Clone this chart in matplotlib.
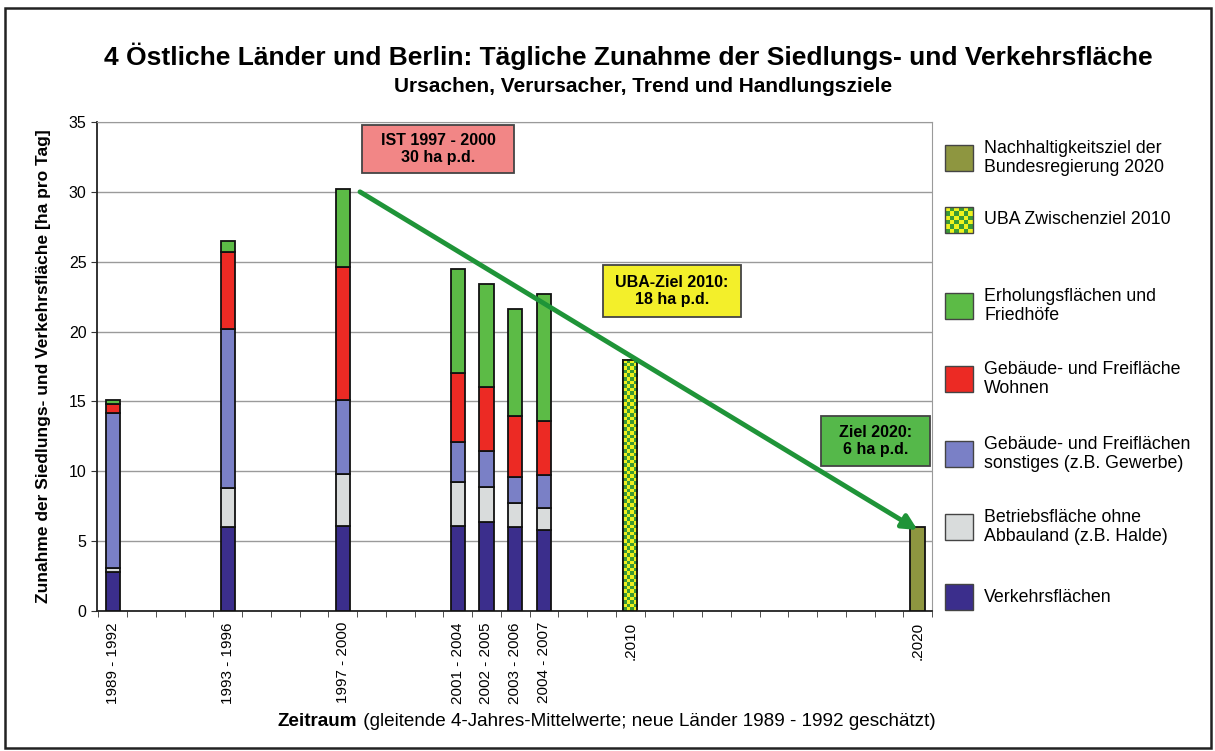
"""Tägliche Zunahme der Siedlungs- und Verkehrsfläche, 4 östliche Länder und Berlin."""

import matplotlib
matplotlib.use("Agg")
import matplotlib.pyplot as plt
import numpy as np
from matplotlib.colors import ListedColormap
from matplotlib.patches import Rectangle

plt.rcParams["font.family"] = ["Liberation Sans", "DejaVu Sans"]

# --- data ---------------------------------------------------------------
years = [1992, 1996, 2000, 2004, 2005, 2006, 2007]
tick_years = [1992, 1996, 2000, 2004, 2005, 2006, 2007, 2010, 2020]
tick_labels = ["1989 - 1992", "1993 - 1996", "1997 - 2000", "2001 - 2004",
               "2002 - 2005", "2003 - 2006", "2004 - 2007", ".2010", ".2020"]

verkehr = [2.80, 6.04, 6.10, 6.09, 6.40, 6.00, 5.80]
betrieb = [0.25, 2.76, 3.70, 3.11, 2.47, 1.72, 1.56]
sonstiges = [11.15, 11.40, 5.30, 2.87, 2.55, 1.84, 2.39]
wohnen = [0.65, 5.50, 9.50, 4.93, 4.61, 4.37, 3.82]
erholung = [0.25, 0.75, 5.60, 7.50, 7.34, 7.65, 9.15]

uba_year, uba_value = 2010, 18.0
ziel_year, ziel_value = 2020, 6.0

trend_start = (2000.6, 30.0)
trend_end = (2020.0, 5.8)

# --- colours ------------------------------------------------------------
C_VERKEHR = "#3b2e8c"
C_BETRIEB = "#d9dcdc"
C_SONST = "#7a80c6"
C_WOHNEN = "#ec2a24"
C_ERHOL = "#5cbb46"
C_OLIVE = "#8e9640"
C_CHK_Y = "#eef21e"
C_CHK_G = "#3a9a34"
C_ARROW = "#1f9438"

fig = plt.figure(figsize=(12.15, 7.51), dpi=100)

# pixel canvas for frame, legend and note boxes
lax = fig.add_axes([0, 0, 1, 1], zorder=0)
lax.set_xlim(0, 1215)
lax.set_ylim(751, 0)
lax.axis("off")
lax.add_patch(Rectangle((5, 8), 1206, 740, fill=False, ec="#222222", lw=1.8))

ax = fig.add_axes([97 / 1215, 1 - 611 / 751, 835 / 1215, 489 / 751], zorder=2)
ax.set_facecolor("none")

width = 0.5
edge = dict(edgecolor="#111111", linewidth=1.3)
bottom = np.zeros(len(years))
for vals, col in [(verkehr, C_VERKEHR), (betrieb, C_BETRIEB), (sonstiges, C_SONST),
                  (wohnen, C_WOHNEN), (erholung, C_ERHOL)]:
    ax.bar(years, vals, width, bottom=bottom, color=col, zorder=3, **edge)
    bottom += np.array(vals)

# checkered UBA bar
uba_bar = ax.bar(uba_year, uba_value, width, color=C_CHK_Y, zorder=3, **edge)[0]
bx, by = uba_bar.get_x(), uba_bar.get_y()
bw, bh = uba_bar.get_width(), uba_bar.get_height()
rows, cols = 70, 4
checker = (np.add.outer(np.arange(rows), np.arange(cols)) % 2)
ax.imshow(checker, extent=(bx, bx + bw, by, by + bh), aspect="auto",
          interpolation="nearest", cmap=ListedColormap([C_CHK_Y, C_CHK_G]), zorder=3.5)
ax.bar(uba_year, uba_value, width, fill=False, zorder=4, **edge)

ax.bar(ziel_year, ziel_value, width, color=C_OLIVE, zorder=3, **edge)

ax.set_xlim(1991.45, 2020.5)
ax.set_ylim(0, 35)
ax.set_yticks(np.arange(0, 36, 5))
ax.yaxis.grid(True, color="#9a9a9a", lw=1.0, zorder=1)
ax.set_xticks(tick_years)
ax.set_xticklabels(tick_labels, rotation=90, fontsize=11)
ax.set_xticks(np.arange(1991.5, 2020.6, 1), minor=True)
ax.tick_params(axis="x", which="major", length=0, pad=8)
ax.tick_params(axis="x", which="minor", length=4, color="#333333")
ax.tick_params(axis="y", labelsize=11.5, length=4, color="#333333")
for s in ["top", "right"]:
    ax.spines[s].set_color("#9a9a9a")
for s in ["left", "bottom"]:
    ax.spines[s].set_color("#222222")
    ax.spines[s].set_linewidth(1.3)

ax.set_ylabel("Zunahme der Siedlungs- und Verkehrsfläche [ha pro Tag]",
              fontsize=12.5, fontweight="bold", labelpad=13)

# trend arrow
ax.annotate("", xy=trend_end, xytext=trend_start, zorder=5,
            arrowprops=dict(arrowstyle="-|>", lw=3.5, color=C_ARROW,
                            mutation_scale=22, shrinkA=0, shrinkB=0))

# note boxes (pixel layout)
notes = [
    ((362, 125, 152, 48), "#f28686", "IST 1997 - 2000\n30 ha p.d."),
    ((603, 265, 138, 52), "#f3ef2a", "UBA-Ziel 2010:\n18 ha p.d."),
    ((821, 416, 109, 50), "#55b84a", "Ziel 2020:\n6 ha p.d."),
]
for (x0, y0, w, h), fc, txt in notes:
    lax.add_patch(Rectangle((x0, y0), w, h, fc=fc, ec="#444444", lw=1.3, zorder=6))
    lax.text(x0 + w / 2, y0 + h / 2, txt, fontsize=11.5, fontweight="bold",
             ha="center", va="center", linespacing=1.2, zorder=7)

# titles
fig.text(628 / 1215, 1 - 56 / 751,
         "4 Östliche Länder und Berlin: Tägliche Zunahme der Siedlungs- und Verkehrsfläche",
         ha="center", va="center", fontsize=19, fontweight="bold")
fig.text(643 / 1215, 1 - 87 / 751, "Ursachen, Verursacher, Trend und Handlungsziele",
         ha="center", va="center", fontsize=15, fontweight="bold")

# x label, bold part + normal part
t1 = fig.text(278 / 1215, 1 - 726 / 751, "Zeitraum", fontsize=13.6,
              fontweight="bold", ha="left", va="baseline")
fig.canvas.draw()
lax.annotate(" (gleitende 4-Jahres-Mittelwerte; neue Länder 1989 - 1992 geschätzt)",
             xy=(1, 0), xycoords=t1, fontsize=13.6, ha="left", va="bottom")

# legend
legend_items = [
    (158, C_OLIVE, "Nachhaltigkeitsziel der\nBundesregierung 2020"),
    (220, None, "UBA Zwischenziel 2010"),
    (306, C_ERHOL, "Erholungsflächen und\nFriedhöfe"),
    (379, C_WOHNEN, "Gebäude- und Freifläche\nWohnen"),
    (454, C_SONST, "Gebäude- und Freiflächen\nsonstiges (z.B. Gewerbe)"),
    (527, C_BETRIEB, "Betriebsfläche ohne\nAbbauland (z.B. Halde)"),
    (597, C_VERKEHR, "Verkehrsflächen"),
]
for yc, col, label in legend_items:
    if col is None:
        lax.imshow((np.add.outer(np.arange(6), np.arange(6)) % 2),
                   extent=(945, 973, yc + 13, yc - 13), aspect="auto",
                   interpolation="nearest", cmap=ListedColormap([C_CHK_Y, C_CHK_G]))
        lax.add_patch(Rectangle((945, yc - 13), 28, 26, fill=False, ec="#444444", lw=1))
    else:
        lax.add_patch(Rectangle((945, yc - 13), 28, 26, fc=col, ec="#444444", lw=1))
    lax.text(984, yc, label, fontsize=12.8, ha="left", va="center", linespacing=1.12)
lax.set_xlim(0, 1215)
lax.set_ylim(751, 0)

fig.savefig("out.png", dpi=100)
